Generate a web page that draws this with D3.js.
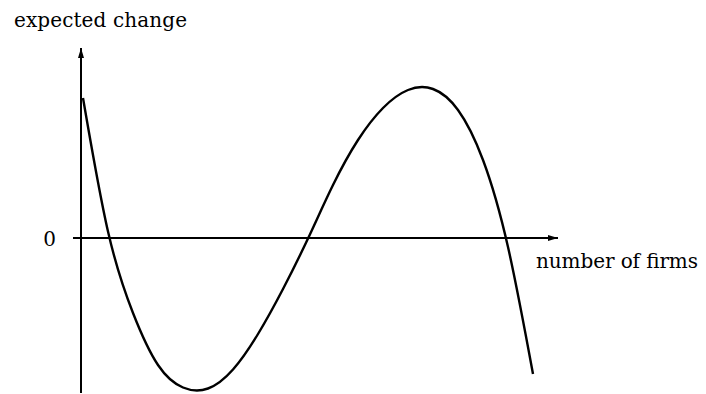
<!DOCTYPE html>
<html>
<head>
<meta charset="utf-8">
<script src="https://cdn.jsdelivr.net/npm/d3@7"></script>
<style>
  body { margin: 0; background: #fff; }
</style>
</head>
<body>
<div id="chart"></div>
<script>
// Size of the picture
const width = 706, height = 394;
const serif = "DejaVu Serif";

// Curve at even steps of the x axis (number of firms, expected change)
const firms = [0.2, 2.7, 5.2, 7.7, 10.2, 12.7, 15.2, 17.7, 20.2, 22.7,
               25.2, 27.7, 30.2, 32.7, 35.2, 37.7, 40.2, 42.7, 45.2];
const change = [14.0, 0.65, -7.5, -12.7, -14.95, -15.05, -13.15, -9.6, -5.1, -0.05,
                5.3, 9.8, 13.0, 14.8, 14.9, 12.8, 7.8, -0.9, -13.6];
const yTicks = [0];
const xLabel = "number of firms";
const yLabel = "expected change";

const svg = d3.select("#chart")
    .append("svg")
    .attr("width", width)
    .attr("height", height);

// Arrow head for both axes
svg.append("defs").append("marker")
    .attr("id", "arrow")
    .attr("viewBox", "0 0 10 10")
    .attr("refX", 10)
    .attr("refY", 5)
    .attr("markerWidth", 10)
    .attr("markerHeight", 10)
    .attr("markerUnits", "userSpaceOnUse")
    .attr("orient", "auto")
    .append("path")
    .attr("d", "M0,2 L10,5 L0,8 Z")
    .attr("fill", "#000");

const x = d3.scaleLinear().domain([-0.8, 47.7]).range([73, 558]);
const y = d3.scaleLinear().domain([-15.5, 19]).range([393, 48]);

// axes
svg.append("line")
    .attr("x1", x(0)).attr("x2", x(0))
    .attr("y1", y(-15.5)).attr("y2", y(19))
    .attr("stroke", "#000").attr("stroke-width", 2)
    .attr("marker-end", "url(#arrow)");

svg.append("line")
    .attr("x1", x(-0.8)).attr("x2", x(47.7))
    .attr("y1", y(0)).attr("y2", y(0))
    .attr("stroke", "#000").attr("stroke-width", 2)
    .attr("marker-end", "url(#arrow)");

// the "0" tick label
const yAxis = svg.append("g")
    .attr("transform", `translate(${x(0)},0)`)
    .call(d3.axisLeft(y).tickValues(yTicks).tickSize(0).tickPadding(25).tickFormat(d3.format("d")));
yAxis.attr("font-family", serif).attr("font-size", 20);
yAxis.select(".domain").remove();
yAxis.selectAll("text")
    .attr("fill", "#000")
    .attr("dy", "0.35em");

// curve
const data = firms.map((f, i) => [f, change[i]]);
svg.append("path")
    .datum(data)
    .attr("fill", "none")
    .attr("stroke", "#000")
    .attr("stroke-width", 2.4)
    .attr("d", d3.line()
        .x(d => x(d[0]))
        .y(d => y(d[1]))
        .curve(d3.curveNatural));

// labels
svg.append("text")
    .attr("x", 14).attr("y", 27)
    .attr("font-family", serif)
    .attr("font-size", 20)
    .attr("textLength", 173)
    .attr("lengthAdjust", "spacing")
    .text(yLabel);

svg.append("text")
    .attr("x", 536).attr("y", 268)
    .attr("font-family", serif)
    .attr("font-size", 20)
    .attr("textLength", 162)
    .attr("lengthAdjust", "spacing")
    .text(xLabel);
</script>
</body>
</html>
